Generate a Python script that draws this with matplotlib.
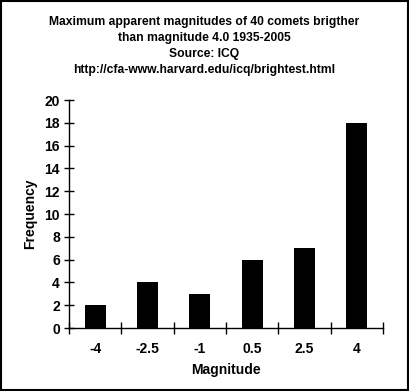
import matplotlib

matplotlib.use("agg")
import matplotlib.pyplot as plt
import numpy as np
from matplotlib.patches import Rectangle

categories = ["-4", "-2.5", "-1", "0.5", "2.5", "4"]
frequency = [2, 4, 3, 6, 7, 18]
y_ticks = list(range(0, 21, 2))
title_lines = [
    "Maximum apparent magnitudes of 40 comets brigther",
    "than magnitude 4.0 1935-2005",
    "Source: ICQ",
    "http://cfa-www.harvard.edu/icq/brightest.html",
]

plt.rcParams["font.family"] = ["Liberation Sans", "DejaVu Sans"]
plt.rcParams["font.weight"] = "bold"

fig = plt.figure(figsize=(4.09, 3.91), dpi=100)
ax = fig.add_axes([69 / 409, 1 - 328 / 391, (383 - 69) / 409, (328 - 100) / 391])

x = np.arange(len(categories))
ax.bar(x, frequency, width=0.4, color="black")

ax.set_xlim(-0.5, len(categories) - 0.5)
ax.set_ylim(0, 20)
ax.set_yticks(y_ticks)
ax.set_yticklabels([str(v) for v in y_ticks], fontsize=10, fontweight="bold")
ax.set_xticks(x)
ax.set_xticklabels(categories, fontsize=10, fontweight="bold")
ax.set_xticks(np.arange(-0.5, len(categories)), minor=True)
ax.tick_params(axis="x", which="major", length=0, pad=10)
ax.tick_params(axis="x", which="minor", direction="inout", length=8, width=1)
ax.tick_params(axis="y", direction="inout", length=7, width=1, pad=3)

for s in ["top", "right"]:
    ax.spines[s].set_visible(False)
for s in ["left", "bottom"]:
    ax.spines[s].set_linewidth(1)
    ax.spines[s].set_color("black")

ax.set_xlabel("Magnitude", fontsize=10, fontweight="bold", labelpad=5)
ax.set_ylabel("Frequency", fontsize=10, fontweight="bold", labelpad=5)

title_y = [22, 38, 54, 70]
for line, yy in zip(title_lines, title_y):
    fig.text(0.5, 1 - yy / 391, line, ha="center", va="center",
             fontsize=8.7, fontweight="bold")

fig.patches.append(Rectangle((0.002, 0.002), 0.995, 0.995, transform=fig.transFigure,
                             fill=False, edgecolor="black", linewidth=1.5))

fig.savefig("out.png", dpi=100, facecolor="white")
